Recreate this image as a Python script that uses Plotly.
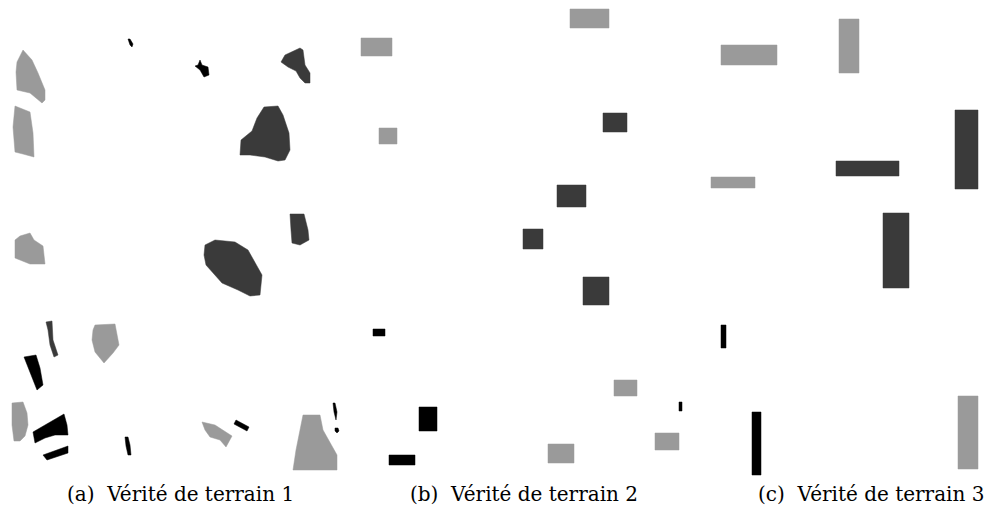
import plotly.graph_objects as go

# ---------------- data (image pixel coordinates of the ground-truth regions) -------------
# Panel (a): irregular regions, polygons as (x list, y list)
a_gray_polys = [
    ([23, 17, 16, 17, 30, 42, 45, 45, 38, 32], [50, 62, 72, 90, 93, 103, 100, 90, 73, 60]),
    ([15, 30, 33, 34, 23, 15, 13], [106, 112, 133, 157, 154, 152, 127]),
    ([15, 20, 30, 34, 43, 45, 30, 15], [240, 236, 233, 240, 246, 264, 264, 258]),
    ([95, 115, 119, 113, 104, 95, 92, 93], [325, 324, 345, 353, 363, 352, 340, 330]),
    ([12, 23, 27, 28, 25, 20, 14, 12], [403, 402, 413, 425, 436, 441, 441, 425]),
    ([202, 215, 232, 226, 220, 210, 205], [422, 425, 436, 447, 440, 437, 430]),
    ([303, 320, 323, 333, 337, 337, 293, 296, 300], [415, 415, 430, 447, 455, 470, 470, 450, 430]),
]
a_dark_polys = [
    ([285, 300, 303, 305, 310, 310, 305, 300, 296, 288, 281], [55, 48, 50, 65, 73, 83, 83, 78, 71, 67, 62]),
    ([240, 241, 252, 257, 264, 278, 283, 289, 290, 285, 278, 265, 250], [155, 140, 131, 118, 107, 106, 115, 133, 150, 160, 161, 157, 155]),
    ([290, 304, 308, 309, 300, 292, 291], [214, 214, 230, 240, 245, 243, 230]),
    ([205, 215, 235, 248, 262, 260, 250, 238, 222, 215, 206, 204], [245, 240, 242, 250, 275, 295, 296, 290, 283, 275, 265, 255]),
    ([46, 52, 53, 58, 54, 50, 48], [322, 321, 340, 355, 357, 345, 330]),
]
a_black_polys = [
    ([128, 130, 133, 132, 130, 129], [39, 39, 44, 47, 45, 42]),
    ([200, 202, 208, 209, 204, 200, 195, 198], [60, 65, 67, 75, 77, 70, 66, 65]),
    ([24, 36, 40, 43, 37, 33, 28], [357, 355, 368, 385, 390, 380, 368]),
    ([33, 45, 60, 64, 67, 68, 55, 45, 35], [432, 425, 416, 414, 425, 435, 435, 438, 443]),
    ([43, 68, 68, 47], [455, 446, 453, 460]),
    ([125, 128, 130, 131, 128, 126], [437, 437, 445, 455, 455, 446]),
    ([234, 236, 249, 247], [424, 420, 427, 431]),
    ([333, 335, 337, 336, 334], [403, 403, 412, 420, 412]),
    ([335, 338, 339, 337, 335], [428, 428, 431, 433, 431]),
]

# Panel (b): rectangles (x0, y0, x1, y1)
b_gray_rects = [(570, 9, 609, 28), (361, 38, 392, 56), (379, 128, 397, 144),
                (614, 380, 637, 396), (655, 433, 679, 450), (548, 444, 574, 463)]
b_dark_rects = [(603, 113, 627, 132), (557, 185, 586, 207), (523, 229, 543, 249),
                (583, 277, 609, 305)]
b_black_rects = [(373, 329, 385, 336), (679, 402, 682, 411), (419, 407, 437, 431),
                 (389, 455, 415, 465)]

# Panel (c): rectangles
c_gray_rects = [(721, 45, 777, 65), (839, 19, 859, 73), (711, 177, 755, 188),
                (958, 396, 978, 469)]
c_dark_rects = [(955, 110, 978, 189), (836, 161, 899, 176), (883, 213, 909, 288)]
c_black_rects = [(721, 325, 726, 348), (752, 412, 761, 475)]

captions = ["(a)\u00a0 Vérité de terrain 1", "(b)\u00a0 Vérité de terrain 2",
            "(c)\u00a0 Vérité de terrain 3"]
caption_x = [180, 524, 871]
caption_y = [494, 494, 494]

GRAY = "#9a9a9a"
DARK = "#3a3a3a"
BLACK = "#000000"

# ---------------- build -------------
def polys_to_xy(polys):
    xs, ys = [], []
    for px, py in polys:
        xs += list(px) + [px[0], None]
        ys += list(py) + [py[0], None]
    return xs, ys

def rects_to_polys(rects):
    return [([x0, x1, x1, x0], [y0, y0, y1, y1]) for x0, y0, x1, y1 in rects]

groups = [
    (a_gray_polys, GRAY), (a_dark_polys, DARK), (a_black_polys, BLACK),
    (rects_to_polys(b_gray_rects), GRAY), (rects_to_polys(b_dark_rects), DARK),
    (rects_to_polys(b_black_rects), BLACK),
    (rects_to_polys(c_gray_rects), GRAY), (rects_to_polys(c_dark_rects), DARK),
    (rects_to_polys(c_black_rects), BLACK),
]

fig = go.Figure()
for polys, col in groups:
    xs, ys = polys_to_xy(polys)
    fig.add_trace(go.Scatter(x=xs, y=ys, mode="lines", fill="toself",
                             fillcolor=col, line=dict(color=col, width=0.5),
                             hoverinfo="skip", showlegend=False))

for txt, x, y in zip(captions, caption_x, caption_y):
    fig.add_annotation(x=x, y=y, text=txt, showarrow=False, xanchor="center",
                       yanchor="middle",
                       font=dict(family="DejaVu Serif", size=20, color="#000000"))

fig.update_xaxes(range=[0, 994], visible=False, fixedrange=True)
fig.update_yaxes(range=[508, 0], visible=False, fixedrange=True)
fig.update_layout(width=994, height=508, margin=dict(l=0, r=0, t=0, b=0),
                  paper_bgcolor="white", plot_bgcolor="white", showlegend=False)

fig.write_html("out.html", config={"displayModeBar": False},
               post_script="document.body.style.margin='0';document.body.style.padding='0';document.body.style.overflow='hidden';")
